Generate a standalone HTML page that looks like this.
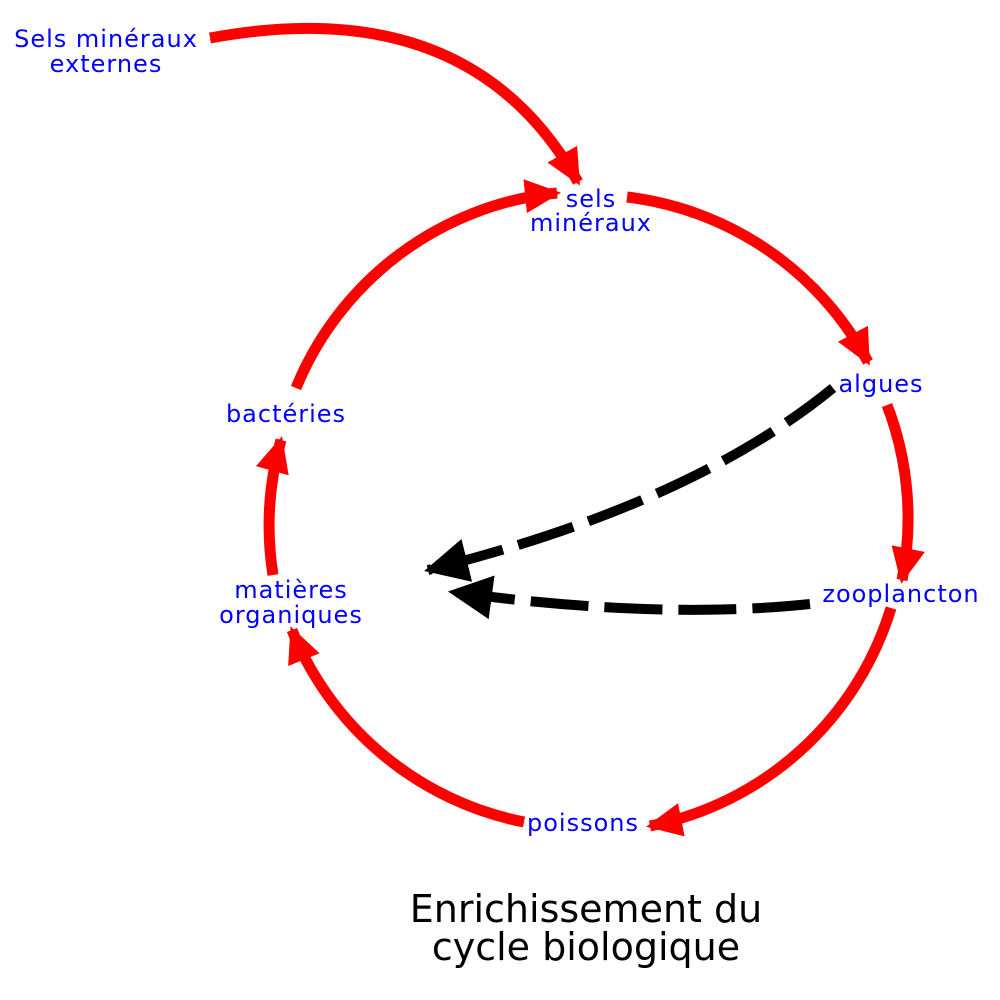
<!DOCTYPE html>
<html><head><meta charset="utf-8"><style>
html,body{margin:0;padding:0;background:#fff;}
svg{display:block;}
text{font-family:"DejaVu Sans","Liberation Sans",sans-serif;}
</style></head><body>
<svg width="1000" height="1000" viewBox="0 0 1000 1000">
<defs>
<marker id="r" markerUnits="userSpaceOnUse" markerWidth="44" markerHeight="44" refX="32" refY="17" orient="auto">
<path d="M0,0 L36,17 L0,34 Z" fill="#f00"/></marker>
<marker id="b" markerUnits="userSpaceOnUse" markerWidth="50" markerHeight="50" refX="40" refY="22" orient="auto">
<path d="M0,0 L44,22 L0,44 Z" fill="#000"/></marker>
</defs>
<g fill="none" stroke="#f00" stroke-width="11">
<path d="M210,38 Q470,-10 578,182" marker-end="url(#r)"/>
<path d="M627,197 A316,316 0 0 1 868,362" marker-end="url(#r)"/>
<path d="M887,405 A316,316 0 0 1 902,580" marker-end="url(#r)"/>
<path d="M891,608 A316,316 0 0 1 650,826" marker-end="url(#r)"/>
<path d="M524,822 A316,316 0 0 1 292,630" marker-end="url(#r)"/>
<path d="M273,575 A316,316 0 0 1 281,440" marker-end="url(#r)"/>
<path d="M296,388 A316,316 0 0 1 557,193" marker-end="url(#r)"/>
</g>
<g fill="none" stroke="#000" stroke-width="10" stroke-dasharray="58,16">
<path d="M833,388 Q690,505 428,570" marker-end="url(#b)"/>
<path d="M810,604 Q660,620 452,592" marker-end="url(#b)"/>
</g>
<g fill="#00f" font-size="24" letter-spacing="1" text-anchor="middle">
<text x="106" y="47">Sels minéraux</text>
<text x="106" y="72">externes</text>
<text x="591" y="207">sels</text>
<text x="591" y="231">minéraux</text>
<text x="881" y="392">algues</text>
<text x="901" y="602">zooplancton</text>
<text x="583" y="831">poissons</text>
<text x="291" y="598">matières</text>
<text x="291" y="623">organiques</text>
<text x="286" y="422">bactéries</text>
</g>
<g fill="#000" font-size="38" text-anchor="middle">
<text x="586" y="922">Enrichissement du</text>
<text x="586" y="960">cycle biologique</text>
</g>
</svg>
</body></html>
